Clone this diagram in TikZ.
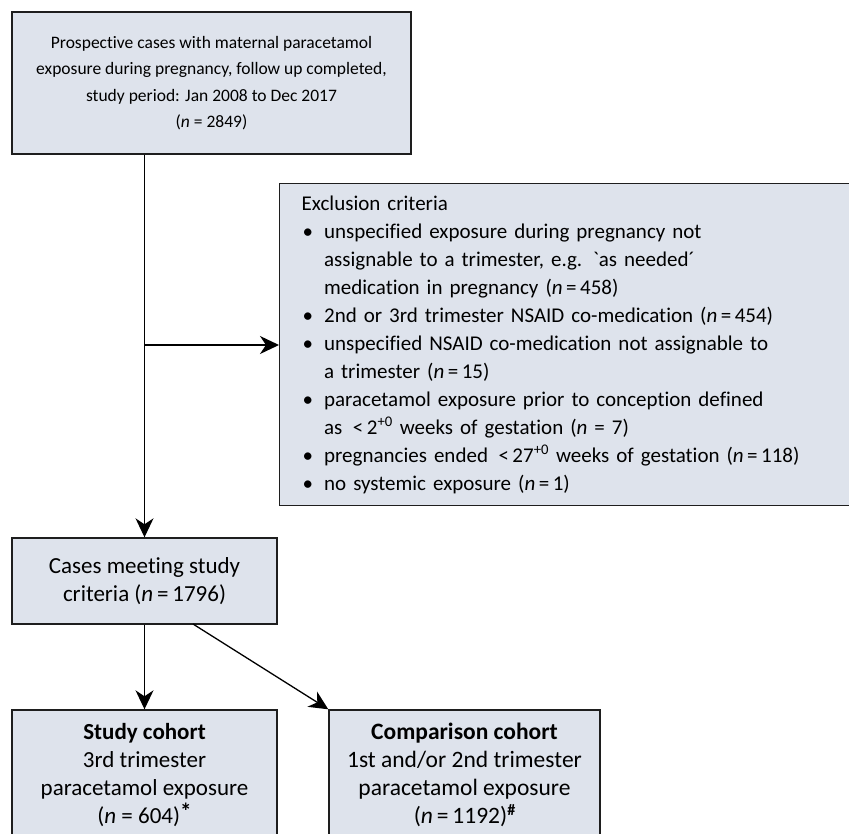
\documentclass[tikz,border=0pt]{standalone}
\usepackage{fontspec}
\setmainfont{Carlito}[Ligatures={TeX,NoCommon}]
\usetikzlibrary{arrows.meta}
\definecolor{boxfill}{RGB}{222,227,236}
\definecolor{boxline}{RGB}{30,30,30}
\begin{document}
\begin{tikzpicture}[x=1pt,y=-1pt,
  box/.style={draw=boxline, line width=1.4pt, fill=boxfill, rectangle, inner sep=0pt,
    align=center, font=\fontsize{23}{28}\selectfont},
  arr/.style={line width=1.3pt, -{Stealth[length=19pt,width=18pt,inset=6pt]}},
  conn/.style={line width=1.3pt}]
\useasboundingbox (0,0) rectangle (849,833);
\clip (0,0) rectangle (849,833);

\node[box, minimum width=399pt, minimum height=142pt, font=\fontsize{17.5}{26.5}\selectfont] (top) at (211.5,83)
  {Prospective cases with maternal paracetamol\\
   exposure during pregnancy, follow up completed,\\
   study period: Jan 2008 to Dec 2017\\
   (\textit{n} = 2849)};

\node[box, anchor=north west, text width=527pt, inner xsep=22pt, minimum height=322pt, align=left,
  font=\fontsize{21}{28}\selectfont]
  (excl) at (279,183)
  {\begin{tabular}{@{\hspace{1pt}}l@{\hspace{11pt}}l@{}}
   \multicolumn{2}{@{}l}{Exclusion criteria}\\
   \textbullet & unspecified exposure during pregnancy not\\
   & assignable to a trimester, e.g. \textasciigrave as needed´\\
   & medication in pregnancy (\textit{n}\,=\,458)\\
   \textbullet & 2nd or 3rd trimester NSAID co-medication (\textit{n}\,=\,454)\\
   \textbullet & unspecified NSAID co-medication not assignable to\\
   & a trimester (\textit{n}\,=\,15)\\
   \textbullet & paracetamol exposure prior to conception defined\\
   & as \,<\,2\textsuperscript{+0} weeks of gestation (\textit{n} = 7)\\
   \textbullet & pregnancies ended \,<\,27\textsuperscript{+0} weeks of gestation (\textit{n}\,=\,118)\\
   \textbullet & no systemic exposure (\textit{n}\,=\,1)
   \end{tabular}};

\node[box, minimum width=265pt, minimum height=86pt] (cases) at (144.5,581)
  {Cases meeting study\\criteria (\textit{n}\,=\,1796)};

\node[box, minimum width=265pt, minimum height=130pt] (study) at (144.5,775)
  {\textbf{Study cohort}\\3rd trimester\\paracetamol exposure\\(\textit{n} = 604)\raisebox{0.35ex}{\textbf{*}}};

\node[box, minimum width=271pt, minimum height=130pt, font=\fontsize{23.5}{28}\selectfont] (comp) at (464.5,775)
  {\textbf{Comparison cohort}\\1st and/or 2nd trimester\\paracetamol exposure\\(\textit{n}\,=\,1192)\raisebox{0.75ex}{\fontsize{16}{16}\selectfont\textbf{\#}}};

\coordinate (branch) at (144.5,345);
\coordinate (diagstart) at (193,624);

\draw[arr] (top.south -| cases.north) -- (cases.north);
\draw[arr] (branch) -- (branch -| excl.west);
\draw[arr] (cases.south) -- (study.north);
\draw[arr] (diagstart) -- (comp.north west);
\end{tikzpicture}
\end{document}
